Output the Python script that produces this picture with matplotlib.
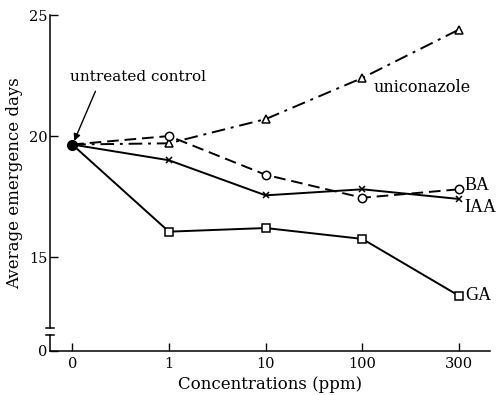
import numpy as np
import matplotlib
matplotlib.use("Agg")
import matplotlib.pyplot as plt

# concentrations (ppm) shown on an evenly spaced categorical axis
conc_labels = ["0", "1", "10", "100", "300"]
control = 19.65
ga = [16.05, 16.2, 15.75, 13.4]
uniconazole = [19.7, 20.7, 22.4, 24.4]
ba = [20.0, 18.4, 17.45, 17.8]
iaa = [19.0, 17.55, 17.8, 17.4]

plt.rcParams["font.family"] = ["Liberation Serif", "DejaVu Serif"]
wide = "DejaVu Serif"

fig = plt.figure(figsize=(5.02, 3.95), dpi=100)
ax = fig.add_axes([0.0996, 0.1114, 0.8764, 0.8506])

x = np.arange(len(conc_labels))
y_base = 11.12

series = [
    (ga, "-", "s", "GA"),
    (uniconazole, (0, (7, 3, 1.5, 3)), "^", "uniconazole"),
    (ba, (0, (6, 3)), "o", "BA"),
    (iaa, "-", "x", "IAA"),
]
for vals, ls, mk, name in series:
    ys = [control] + list(vals)
    ax.plot(x, ys, color="black", linestyle=ls, linewidth=1.4)
    ax.plot(x[1:], vals, linestyle="none", marker=mk, markersize=6 if mk != "x" else 5,
            markerfacecolor="white", markeredgecolor="black", markeredgewidth=1.1)

ax.plot(0, control, "o", color="black", markersize=7)

# series labels
ax.text(4.06, ba[-1] + 0.15, "BA", fontsize=13, va="center", ha="left")
ax.text(4.06, iaa[-1] - 0.35, "IAA", fontsize=13, va="center", ha="left")
ax.text(4.06, ga[-1], "GA", fontsize=13, va="center", ha="left")
ax.text(3.12, 22.0, "uniconazole", fontsize=11.5, va="center", ha="left", family=wide)
ax.text(-0.02, 22.45, "untreated control", fontsize=11, va="center", ha="left", family=wide)
ax.annotate("", xy=(0.02, control + 0.15), xytext=(0.24, 21.85),
            arrowprops=dict(arrowstyle="-|>", color="black", lw=1.0,
                            shrinkA=0, shrinkB=0, mutation_scale=10))

ax.set_xlim(-0.23, 4.32)
ax.set_ylim(y_base, 25)
ax.set_xticks(x)
ax.set_xticklabels(conc_labels, family=wide)
ax.set_yticks([y_base, 15, 20, 25])
ax.set_yticklabels(["0", "15", "20", "25"], family=wide)
ax.tick_params(direction="in", length=6, width=1, labelsize=10.5, pad=4)
ax.tick_params(axis="y", pad=2)

for side in ["top", "right"]:
    ax.spines[side].set_visible(False)
ax.spines["bottom"].set_linewidth(1.1)
ax.spines["left"].set_linewidth(1.1)
ax.spines["left"].set_bounds(12.05, 25)

# broken y axis
ax.plot([-0.23, -0.23], [y_base, 11.8], color="black", lw=1.1, clip_on=False)
ax.plot([-0.27, -0.19], [12.05, 12.05], color="black", lw=1.1, clip_on=False)
ax.plot([-0.27, -0.19], [11.8, 11.8], color="black", lw=1.1, clip_on=False)

ax.set_xlabel("Concentrations (ppm)", fontsize=12, labelpad=4, family=wide)
ax.set_ylabel("Average emergence days", fontsize=12, labelpad=4, family=wide)

fig.savefig("out.png", dpi=100)
